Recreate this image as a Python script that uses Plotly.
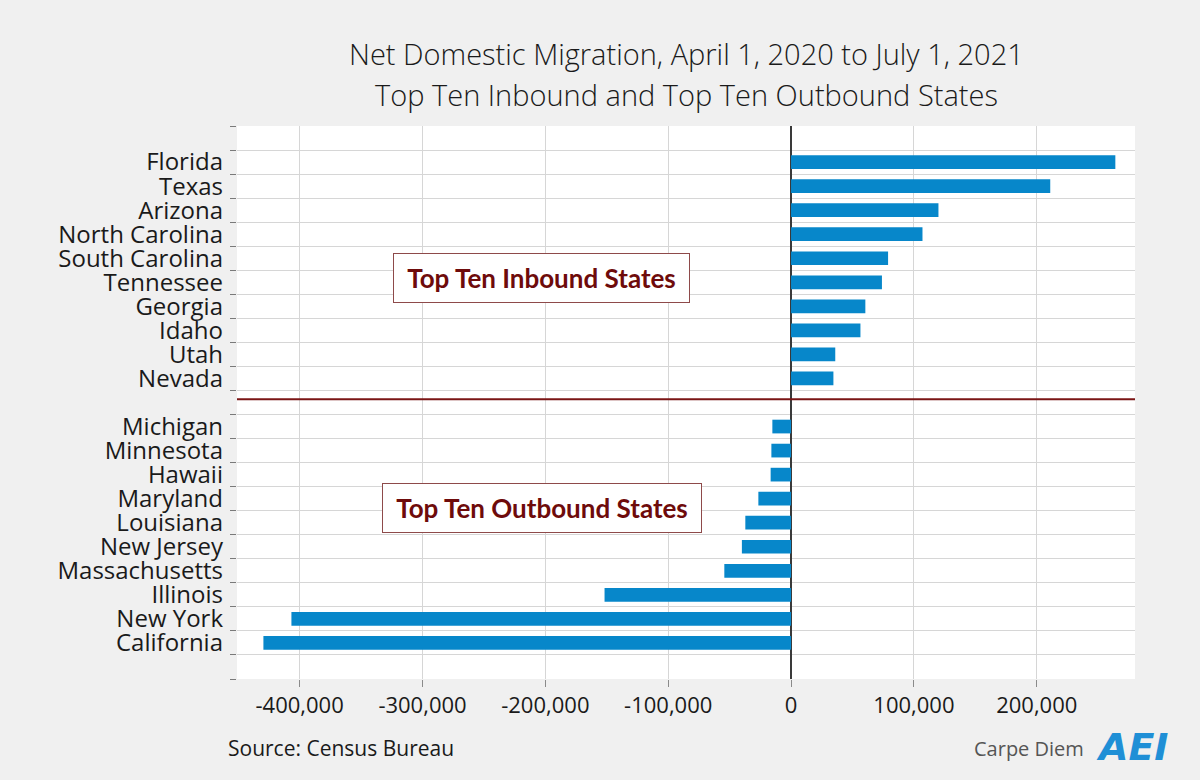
import plotly.graph_objects as go

states_in = ["Florida", "Texas", "Arizona", "North Carolina", "South Carolina",
             "Tennessee", "Georgia", "Idaho", "Utah", "Nevada"]
values_in = [264000, 211000, 120000, 107000, 79000, 74000, 60500, 56500, 36000, 34500]

states_out = ["Michigan", "Minnesota", "Hawaii", "Maryland", "Louisiana",
              "New Jersey", "Massachusetts", "Illinois", "New York", "California"]
values_out = [-15200, -16000, -16600, -26600, -37200, -40000, -54300, -151800, -406700, -429500]

x_ticks = [-400000, -300000, -200000, -100000, 0, 100000, 200000]
x_tick_labels = ["-400,000", "-300,000", "-200,000", "-100,000", "0", "100,000", "200,000"]

title_line1 = "Net Domestic Migration, April 1, 2020 to July 1, 2021"
title_line2 = "Top Ten Inbound and Top Ten Outbound States"
label_in = "Top Ten Inbound States"
label_out = "Top Ten Outbound States"
source_text = "Source: Census Bureau"

# slot positions: blank slot 0, inbound 1-10, gap 11, outbound 12-21, blank 22
labels = states_in + states_out
values = values_in + values_out
positions = list(range(1, 11)) + list(range(12, 22))

FONT = "Open Sans"
BLUE = "#0787ca"
DARKRED = "#6e0b0b"

fig = go.Figure()
fig.add_trace(go.Bar(
    x=values, y=positions, orientation="h", width=0.57,
    marker=dict(color=BLUE, line=dict(width=0)),
    hovertext=labels, showlegend=False,
))

fig.update_layout(
    width=1200, height=780,
    paper_bgcolor="#f0f0f0", plot_bgcolor="#ffffff",
    margin=dict(l=237, r=65, t=126, b=101),
    font=dict(family=FONT, color="#1a1a1a"),
    bargap=0.4,
)

fig.update_xaxes(
    range=[-451000, 280000],
    tickmode="array", tickvals=x_ticks, ticktext=x_tick_labels,
    tickfont=dict(size=22, family=FONT, color="#1a1a1a"),
    showgrid=True, gridcolor="#d6d6d6", gridwidth=1,
    zeroline=True, zerolinecolor="#3a3a3a", zerolinewidth=1.5,
    ticks="outside", ticklen=7, tickcolor="#8a8a8a",
    showline=False, fixedrange=True,
)

fig.update_yaxes(
    range=[22.5, -0.5],
    tickmode="array", tickvals=positions, ticktext=labels,
    tickfont=dict(size=24, family=FONT, color="#1a1a1a"),
    showgrid=False, ticks="", ticklabelstandoff=13,
    minor=dict(tick0=0.5, dtick=1, ticks="outside", ticklen=6,
               tickcolor="#7a7a7a", showgrid=True, gridcolor="#d6d6d6", gridwidth=1),
    showline=False, zeroline=False, fixedrange=True,
)

# divider line between inbound and outbound groups
fig.add_shape(type="line", xref="paper", yref="y", x0=0, x1=1, y0=10.87, y1=10.87,
              line=dict(color="#7a1515", width=2))

# group label boxes
for txt, xc, yc, w in [(label_in, -203000, 5.82, 295), (label_out, -202500, 15.39, 318)]:
    fig.add_annotation(
        x=xc, y=yc, xref="x", yref="y", text="<b>" + txt + "</b>", showarrow=False,
        font=dict(size=26, family="Lato", color=DARKRED),
        bgcolor="#ffffff", bordercolor="#8e4a4a", borderwidth=1, borderpad=0,
        width=w, height=48, xanchor="center", yanchor="middle",
    )

# titles
fig.add_annotation(x=0.5, xref="paper", y=(679 - 53) / 553, yref="paper",
                   text=title_line1, showarrow=False, xanchor="center", yanchor="middle",
                   font=dict(size=29, family=FONT, color="#1a1a1a", weight=300))
fig.add_annotation(x=0.5, xref="paper", y=(679 - 94) / 553, yref="paper",
                   text=title_line2, showarrow=False, xanchor="center", yanchor="middle",
                   font=dict(size=29, family=FONT, color="#1a1a1a", weight=300))

# footer
fig.add_annotation(x=(226 - 237) / 898, xref="paper", y=(679 - 748) / 553, yref="paper",
                   text=source_text, showarrow=False, xanchor="left", yanchor="middle",
                   font=dict(size=21, family=FONT, color="#1a1a1a"))
fig.add_annotation(x=(972 - 237) / 898, xref="paper", y=(679 - 748) / 553, yref="paper",
                   text="Carpe Diem", showarrow=False, xanchor="left", yanchor="middle",
                   font=dict(size=20, family=FONT, color="#555555"))
fig.add_annotation(x=(1094 - 237) / 898, xref="paper", y=(679 - 747) / 553, yref="paper",
                   text="<b><i>AEI</i></b>", showarrow=False, xanchor="left", yanchor="middle",
                   font=dict(size=38, family="DejaVu Sans", color="#1f8fd6"))

fig.write_html(
    "out.html",
    config={"displayModeBar": False},
    post_script="document.body.style.margin='0';document.body.style.background='#f0f0f0';"
                "document.body.style.overflow='hidden';",
)
